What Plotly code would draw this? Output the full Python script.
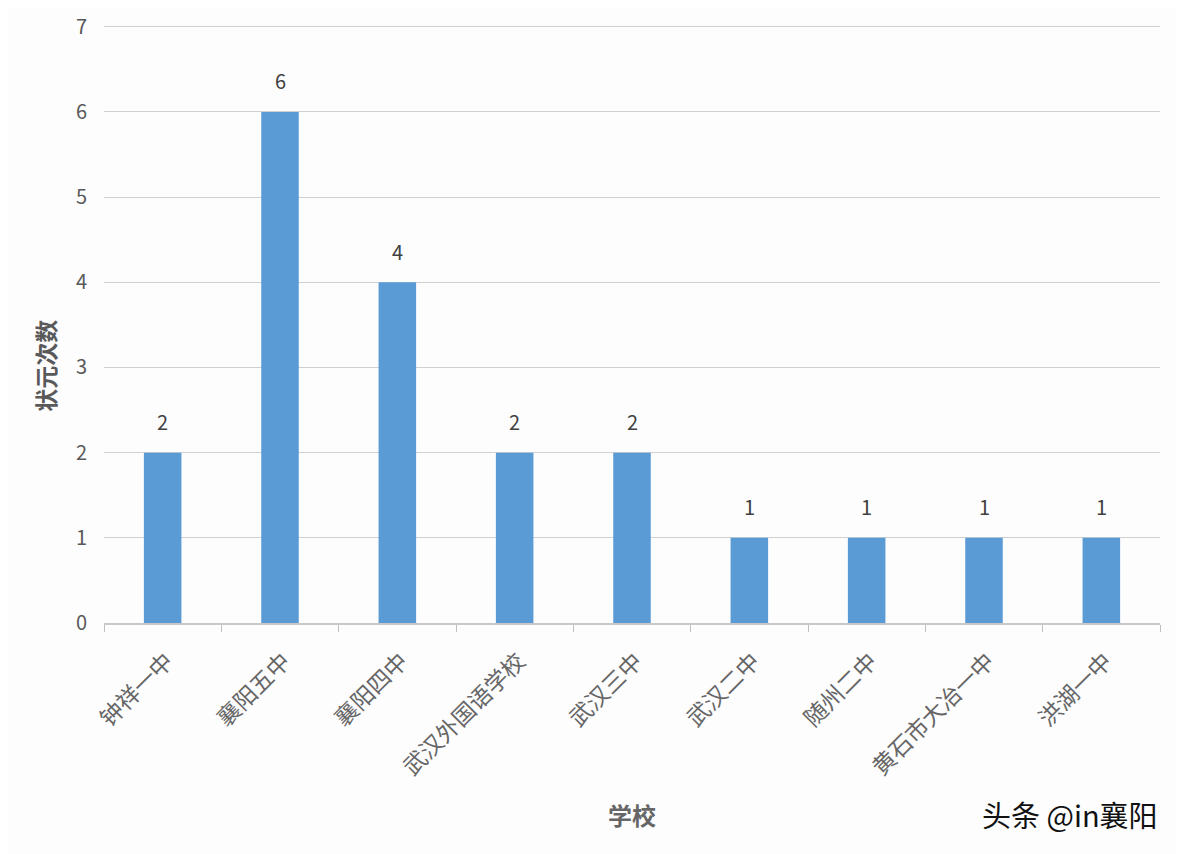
import plotly.graph_objects as go

schools = ["钟祥一中", "襄阳五中", "襄阳四中", "武汉外国语学校", "武汉三中",
           "武汉二中", "随州二中", "黄石市大冶一中", "洪湖一中"]
counts = [2, 6, 4, 2, 2, 1, 1, 1, 1]
y_ticks = [0, 1, 2, 3, 4, 5, 6, 7]

FONT = "Noto Sans CJK SC"
fig = go.Figure(go.Bar(
    x=schools, y=counts,
    marker=dict(color="#5b9bd5", line=dict(width=0)),
))
for s, v in zip(schools, counts):
    fig.add_annotation(x=s, y=v, text=str(v), showarrow=False, yshift=31,
                       font=dict(family=FONT, size=20, color="#404040"))

fig.update_layout(
    width=1184, height=854,
    margin=dict(l=96, r=32, t=17, b=239, autoexpand=False),
    paper_bgcolor="#fdfdfe", plot_bgcolor="#fdfdfe",
    bargap=0.68, showlegend=False,
    font=dict(family=FONT, color="#595959"),
)
fig.update_xaxes(
    type="category", tickangle=-45, tickson="boundaries", automargin=False,
    ticks="outside", ticklen=7, tickcolor="#bfbfbf",
    showline=True, linecolor="#c8c8c8", linewidth=1.5,
    ticklabelshift=4, ticklabelstandoff=14,
    tickfont=dict(family=FONT, size=23, color="#666666"),
)
fig.update_yaxes(
    range=[0, 7.02], tickvals=y_ticks, showgrid=True, gridcolor="#d0d0d0", gridwidth=1,
    zeroline=False, ticks="", ticklabelstandoff=16, automargin=False,
    tickfont=dict(family=FONT, size=20, color="#595959"),
)
fig.add_annotation(text="<b>状元次数</b>", xref="paper", yref="paper", x=-0.056, y=0.43,
                   xanchor="center", yanchor="middle", textangle=-90, showarrow=False,
                   font=dict(family=FONT, size=23, color="#595959"))
fig.add_annotation(text="<b>学校</b>", xref="paper", yref="paper",
                   x=(632 - 104) / 1056, y=-0.32,
                   xanchor="center", yanchor="middle", showarrow=False,
                   font=dict(family=FONT, size=24, color="#666666"))
fig.add_annotation(text="头条 @in襄阳", xref="paper", yref="paper",
                   x=1.0, y=-0.32,
                   xanchor="right", yanchor="middle", showarrow=False,
                   font=dict(family=FONT, size=29, color="#111111"))
fig.write_html("out.html")
